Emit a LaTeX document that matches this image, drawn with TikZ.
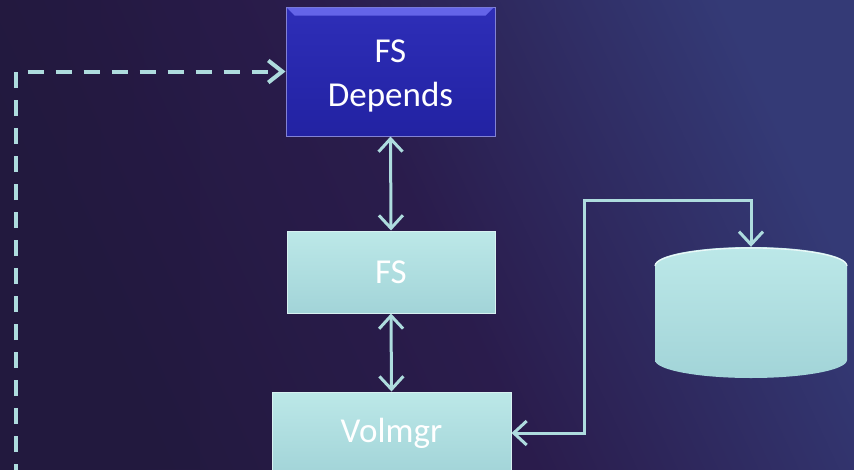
\documentclass[tikz,border=0pt]{standalone}
\usepackage{fontspec}
\setmainfont{Carlito}
\usetikzlibrary{arrows.meta,shadings,fadings}
\definecolor{bgA}{HTML}{22193E}
\definecolor{bgB}{HTML}{2A1C4C}
\definecolor{bgC}{HTML}{343A76}
\definecolor{lineC}{HTML}{AEDCDE}
\definecolor{blueTop}{HTML}{2E2EB8}
\definecolor{blueBot}{HTML}{2222A2}
\definecolor{blueRim}{HTML}{6464E8}
\definecolor{cyanTop}{HTML}{BCE8E8}
\definecolor{cyanBot}{HTML}{A2D4D8}
\tikzset{
  box/.style={rectangle, top color=cyanTop, bottom color=cyanBot, draw=cyanTop!60!white, line width=1pt, text=white, font=\fontsize{35}{44}\selectfont, align=center, inner sep=0pt},
  bluebox/.style={box, top color=blueTop, bottom color=blueBot, draw=blueTop!60!white},
  boxtext/.style={text=white, font=\fontsize{35}{44}\selectfont, align=center, inner sep=0pt},
  conn/.style={draw=lineC, line width=3pt, {Straight Barb[length=13pt,width=24pt]}-{Straight Barb[length=13pt,width=24pt]}},
  dconn/.style={draw=lineC, line width=4pt, dash pattern=on 16pt off 12pt, -{Straight Barb[length=14pt,width=22pt]}}
}
\begin{document}
\begin{tikzpicture}[x=1pt,y=-1pt]
\useasboundingbox (0,0) rectangle (854,469);
\clip (0,0) rectangle (854,469);
% background
\shade[left color=bgA, right color=bgC, middle color=bgB, shading angle=115] (0,0) rectangle (854,469);
\fill[bgA, opacity=0.5, path fading=east] (0,0) rectangle (200,469);
% nodes
\node[bluebox, minimum width=209pt, minimum height=129pt] (fsd) at (390.5,71.5) {};
\fill[blueRim] (fsd.north west) ++(1,1) -- ++(207,0) -- ++(-8,8) -- ++(-191,0) -- cycle;
\node[boxtext] (fsdtext) at ([yshift=-4pt]fsd.center) {FS\\Depends};
\node[box, minimum width=208pt, minimum height=82pt] (fs) at (391,272) {FS};
\node[box, minimum width=239pt, minimum height=82pt] (vol) at (391.5,433) {Volmgr};
% cylinder
\node[minimum width=192pt, minimum height=131pt, inner sep=0pt] (cyl) at (751,312.5) {};
\path[top color=cyanTop, bottom color=cyanBot] (655,265) -- (655,360) arc[start angle=180, end angle=360, x radius=96pt, y radius=18pt] -- (847,265) arc[start angle=0, end angle=180, x radius=96pt, y radius=18pt] -- cycle;
\draw[white!70!cyanTop, line width=1.2pt] (655,266) arc[start angle=180, end angle=0, x radius=96pt, y radius=18pt];
% connectors
\draw[conn] (fsd.south) -- (fs.north);
\draw[conn] (fs.south) -- (vol.north);
\coordinate (c1) at (584,200);
\draw[conn] (vol.east) -| (c1) -| (cyl.north);
\coordinate (d0) at (16,480);
\draw[dconn] (d0) |- (fsd.west);
\end{tikzpicture}
\end{document}
